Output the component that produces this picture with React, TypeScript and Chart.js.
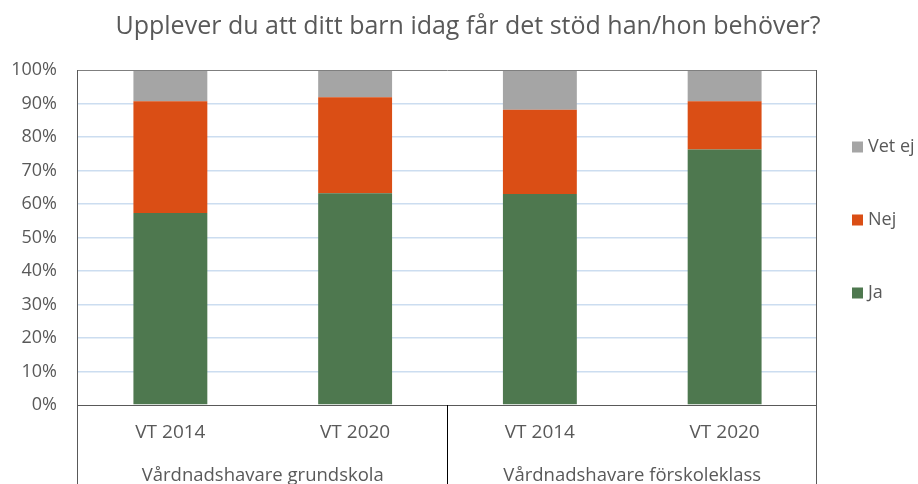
import React, { useEffect, useRef } from "react";
import { Chart, registerables } from "chart.js";

Chart.register(...registerables);

const title = "Upplever du att ditt barn idag får det stöd han/hon behöver?";
const categories = ["VT 2014", "VT 2020", "VT 2014", "VT 2020"];
const groups = ["Vårdnadshavare grundskola", "Vårdnadshavare förskoleklass"];
const groupSizes = [2, 2];
const seriesNames = ["Ja", "Nej", "Vet ej"];
const ja = [57.3, 63.2, 63.0, 76.3];
const nej = [33.4, 28.7, 25.1, 14.4];
const vetEj = [9.3, 8.1, 11.9, 9.3];
const colors = ["#4E784F", "#DA4E15", "#A5A5A5"];

const FONT = "'Open Sans', 'DejaVu Sans', sans-serif";
const TEXT = "#595959";

const overlay = {
  id: "overlay",
  afterDraw(chart: any) {
    const ctx = chart.ctx as CanvasRenderingContext2D;
    const area = chart.chartArea;
    const x = chart.scales.x;
    const H = chart.height;
    ctx.save();
    // frame lines
    ctx.lineWidth = 1;
    ctx.strokeStyle = "#7F7F7F";
    ctx.beginPath();
    ctx.moveTo(area.left, area.top + 0.5);
    ctx.lineTo(area.right, area.top + 0.5);
    ctx.stroke();
    ctx.strokeStyle = "#595959";
    ctx.beginPath();
    ctx.moveTo(Math.round(area.left) - 0.5, area.top);
    ctx.lineTo(Math.round(area.left) - 0.5, H);
    ctx.moveTo(Math.round(area.right) - 0.5, area.top);
    ctx.lineTo(Math.round(area.right) - 0.5, H);
    ctx.moveTo(area.left, Math.round(area.bottom) + 0.5);
    ctx.lineTo(area.right, Math.round(area.bottom) + 0.5);
    ctx.stroke();
    // group separators
    ctx.strokeStyle = "#000000";
    let idx = 0;
    for (let g = 0; g < groupSizes.length - 1; g++) {
      idx += groupSizes[g];
      const bx = (x.getPixelForValue(idx - 1) + x.getPixelForValue(idx)) / 2;
      ctx.beginPath();
      ctx.moveTo(Math.round(bx) - 0.5, area.bottom);
      ctx.lineTo(Math.round(bx) - 0.5, H);
      ctx.stroke();
    }
    // category labels
    ctx.fillStyle = TEXT;
    ctx.textAlign = "center";
    ctx.textBaseline = "middle";
    ctx.font = `19px ${FONT}`;
    categories.forEach((c, i) => {
      ctx.fillText(c, x.getPixelForValue(i), area.bottom + 28);
    });
    // group labels
    ctx.font = `18.5px ${FONT}`;
    let start = 0;
    groups.forEach((g, gi) => {
      const end = start + groupSizes[gi] - 1;
      const half = (x.getPixelForValue(1) - x.getPixelForValue(0)) / 2;
      const l = x.getPixelForValue(start) - half;
      const r = x.getPixelForValue(end) + half;
      ctx.fillText(g, (l + r) / 2, area.bottom + 71);
      start = end + 1;
    });
    // title
    ctx.font = `25px ${FONT}`;
    ctx.fillText(title, 468, 27);
    // legend (top to bottom reversed)
    ctx.font = `18px ${FONT}`;
    ctx.textAlign = "left";
    const order = [2, 1, 0];
    order.forEach((si, k) => {
      const cy = 147 + k * 73;
      ctx.fillStyle = colors[si];
      ctx.fillRect(852, cy - 5.5, 11, 11);
      ctx.fillStyle = TEXT;
      ctx.fillText(seriesNames[si], 868, cy);
    });
    ctx.restore();
  },
};

export default function App() {
  const ref = useRef<HTMLCanvasElement>(null);
  useEffect(() => {
    if (!ref.current) return;
    const chart = new Chart(ref.current, {
      type: "bar",
      data: {
        labels: categories,
        datasets: [
          { label: seriesNames[0], data: ja, backgroundColor: colors[0] },
          { label: seriesNames[1], data: nej, backgroundColor: colors[1] },
          { label: seriesNames[2], data: vetEj, backgroundColor: colors[2] },
        ],
      },
      options: {
        responsive: false,
        animation: false,
        layout: { padding: { top: 70, right: 101, bottom: 79, left: 0 } },
        datasets: {
          bar: { categoryPercentage: 1, barPercentage: 0.4, borderWidth: 0 },
        },
        plugins: {
          legend: { display: false },
          title: { display: false },
          tooltip: { enabled: false },
        },
        scales: {
          x: { stacked: true, display: false },
          y: {
            stacked: true,
            min: 0,
            max: 100,
            ticks: {
              stepSize: 10,
              padding: 21,
              color: TEXT,
              font: { family: FONT, size: 18 },
              callback: (v: any) => `${v}%`,
            },
            border: { display: false },
            grid: {
              drawTicks: false,
              lineWidth: 1.5,
              color: (c: any) =>
                c.tick && (c.tick.value === 0 || c.tick.value === 100)
                  ? "rgba(0,0,0,0)"
                  : "#CCDDF0",
            },
            afterFit: (s: any) => {
              s.width = 78;
            },
          },
        },
      },
      plugins: [overlay],
    });
    return () => chart.destroy();
  }, []);
  return (
    <div style={{ position: "fixed", left: 0, top: 0, width: 918, height: 484, background: "#fff" }}>
      <canvas ref={ref} width={918} height={484} />
    </div>
  );
}
